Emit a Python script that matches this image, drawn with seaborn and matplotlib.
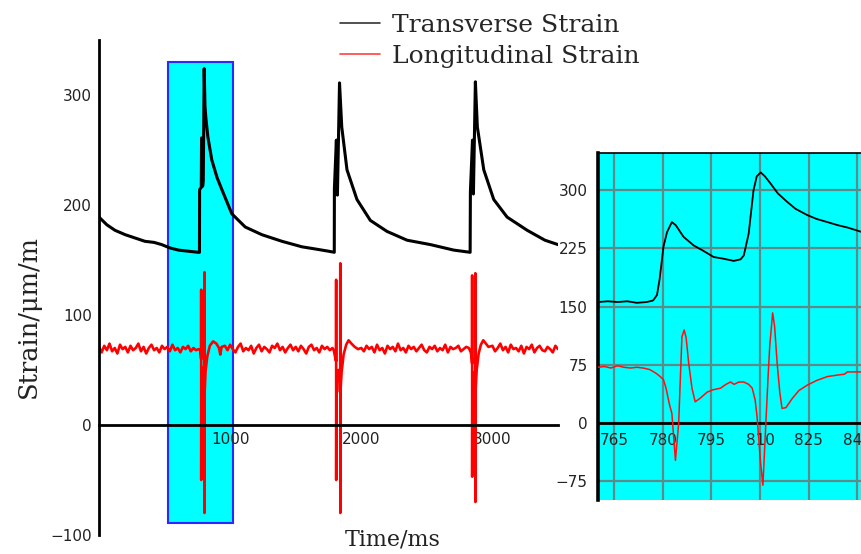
import numpy as np
import pandas as pd
import matplotlib
matplotlib.use("Agg")
import matplotlib.pyplot as plt
from matplotlib.lines import Line2D
from matplotlib.patches import Rectangle
from matplotlib.ticker import MultipleLocator, FixedLocator
import seaborn as sns

# ---------------- data ----------------
# Main chart: transverse strain (black)
trans_t = [0, 60, 122, 200, 275, 350, 420, 478, 540, 606, 680, 758, 766,
           767, 780, 782, 790, 795, 802, 808, 815, 830, 860, 900, 937, 1013,
           1115, 1242, 1395, 1547, 1650, 1750, 1794,
           1795, 1810, 1818, 1834, 1851, 1891, 1967, 2069, 2196, 2349, 2527,
           2705, 2830,
           2832, 2848, 2855, 2870, 2885, 2934, 3010, 3112, 3265, 3400, 3500]
trans_v = [189, 182, 177, 173, 170, 167, 166, 164, 161, 159, 158, 157, 157,
           214, 216, 261, 217, 222, 324, 290, 279, 262, 241, 225, 214, 192,
           180, 173, 167, 162, 160, 158, 157,
           215, 259, 209, 311, 271, 232, 205, 186, 176, 168, 164,
           159, 157,
           212, 259, 210, 312, 271, 232, 205, 189, 177, 168, 164]

# Main chart: longitudinal strain (red) - sampled baseline pieces (20 ms)
sample_ms = 20
long_base_a_start, long_base_a = 0, [71, 66, 72, 68, 74, 67, 70, 65, 73, 69, 71, 66, 72, 68, 70, 74, 67, 71, 65, 70,
                                     73, 68, 70, 66, 72, 69, 71, 67, 73, 68, 70, 66, 71, 69, 72, 67, 70, 68, 69]
long_base_b_start, long_base_b = 960, [72, 68, 73, 69, 66, 71, 74, 67, 70, 68, 72, 65, 70, 73, 67, 71, 69, 66, 72, 70,
                                       74, 68, 71, 66, 70, 73, 68, 71, 67, 72, 69, 65, 71, 73, 68, 70, 66, 72, 69, 71, 68, 70]
long_base_c_start, long_base_c = 2000, [70, 67, 72, 69, 71, 66, 73, 68, 70, 65, 72, 69, 71, 67, 74, 68, 70, 66, 72, 69,
                                        71, 67, 70, 73, 68, 66, 71, 69, 72, 67, 70, 68, 73, 66, 71, 69, 70, 72, 67, 69, 71, 70]
long_base_d_start, long_base_d = 3000, [72, 67, 70, 74, 68, 71, 66, 73, 69, 70, 67, 72, 65, 71, 69, 73, 66, 70, 72, 68,
                                        67, 71, 69, 66, 72, 69]
# impact events
long_ev1_t = [770, 776, 779, 779.3, 779.6, 780.5, 785, 792, 798, 803.6, 803.9, 804.2, 806, 812, 825, 845, 870, 895, 915, 925, 935]
long_ev1_v = [68, 64, 60, 123, -50, 45, 30, 52, 40, 56, 139, -80, 30, 48, 62, 72, 76, 74, 70, 64, 71]
long_ev2_t = [1790, 1800, 1808, 1808.3, 1808.6, 1810, 1815, 1825, 1835, 1839.6, 1839.9, 1840.2, 1842, 1850, 1865, 1885, 1903, 1925, 1950, 1975]
long_ev2_v = [68, 62, 58, 132, -50, 45, 30, 50, 42, 52, 147, -80, 32, 48, 64, 73, 77, 74, 71, 69]
long_ev3_t = [2835, 2843, 2845, 2845.3, 2845.6, 2847, 2852, 2860, 2868, 2869.6, 2869.9, 2870.2, 2872, 2880, 2895, 2912, 2930, 2950, 2970]
long_ev3_v = [66, 60, 56, 136, -47, 42, 30, 48, 40, 50, 138, -70, 32, 50, 65, 73, 77, 74, 71]

# Inset (zoom on first impact)
in_trans_t = [760, 763, 766, 769, 772, 775, 777, 778.2, 779, 780.2, 781.3, 782.8, 784, 786.4, 789.5, 792.5, 795.7,
              798.5, 801.9, 804, 805, 806.5, 808, 809, 810.2, 811.5, 813.2, 815.5, 818.4, 821, 824.6, 827.5,
              830.8, 834, 837, 841.6, 846, 850]
in_trans_v = [156, 157, 156, 157, 155, 156, 158, 165, 185, 227, 246, 259, 255, 240, 229, 222, 214,
              212, 209, 211, 216, 244, 300, 318, 323, 318, 309, 296, 285, 276, 268, 263,
              259, 255, 252, 246, 242, 239]
in_long_t = [760, 762, 764, 766, 768, 770, 772, 774, 776, 778, 779.2, 780.2, 781, 782, 782.8, 783.9, 784.9, 785.9,
             786.6, 787.2, 788, 789, 790, 791.5, 793.7, 795.5, 797.8, 799.5, 800.9, 802, 803.5, 805, 806.5,
             807.6, 808.5, 809.1, 810.2, 810.9, 811.7, 812.5, 813, 813.9, 814.5, 815.3, 816.1, 816.8, 818,
             820, 822, 824.6, 827.5, 830.8, 834, 836, 837, 838.5, 841, 845, 850]
in_long_v = [72, 73, 71, 74, 72, 71, 72, 71, 69, 64, 60, 56, 45, 25, 12.5, -48, 0, 111,
             120, 110, 77, 45, 27.5, 32, 40, 43, 45, 50, 53, 50, 53, 53, 50,
             45, 30, 8, -52, -80, -9, 60, 99, 142, 125, 77, 40, 19, 20,
             32, 42, 49, 55, 60, 62, 63, 66, 66, 66, 68, 70]

main_xticks = [1000, 2000, 3000]
main_yticks = [-100, 0, 100, 200, 300]
inset_xticks = [765, 780, 795, 810, 825, 840]
inset_yticks = [-75, 0, 75, 150, 225, 300]
highlight = dict(x0=527, x1=1023, y0=-89, y1=330)
legend_labels = ["Transverse Strain", "Longitudinal Strain"]

# ---------------- assemble red main series ----------------
def base(start, vals):
    return [start + i * sample_ms for i in range(len(vals))], list(vals)

pieces = [base(long_base_a_start, long_base_a), (long_ev1_t, long_ev1_v),
          base(long_base_b_start, long_base_b), (long_ev2_t, long_ev2_v),
          base(long_base_c_start, long_base_c), (long_ev3_t, long_ev3_v),
          base(long_base_d_start, long_base_d)]
long_t, long_v = [], []
for t, v in pieces:
    long_t += list(t)
    long_v += list(v)

df_trans = pd.DataFrame({"t": trans_t, "v": trans_v})
df_long = pd.DataFrame({"t": long_t, "v": long_v})
df_in_trans = pd.DataFrame({"t": in_trans_t, "v": in_trans_v})
df_in_long = pd.DataFrame({"t": in_long_t, "v": in_long_v})

# ---------------- style ----------------
sns.set_theme(style="white")
plt.rcParams["font.family"] = ["Liberation Sans Narrow", "DejaVu Sans"]
serif_font = ["DejaVu Serif"]

fig = plt.figure(figsize=(8.62, 5.54), dpi=100)

# main axes
ax = fig.add_axes([99 / 862, 1 - 535 / 554, (558 - 99) / 862, 495 / 554])
ax.add_patch(Rectangle((highlight["x0"], highlight["y0"]),
                       highlight["x1"] - highlight["x0"], highlight["y1"] - highlight["y0"],
                       facecolor="#00ffff", edgecolor="#2a2aff", lw=1.5, zorder=0))
sns.lineplot(data=df_trans, x="t", y="v", ax=ax, color="black", lw=2.2,
             estimator=None, sort=False, zorder=3)
sns.lineplot(data=df_long, x="t", y="v", ax=ax, color="#ff0000", lw=1.9,
             estimator=None, sort=False, zorder=2)
ax.set_xlim(0, 3500)
ax.set_ylim(-100, 350)
ax.set_xlabel("")
ax.set_ylabel("")
ax.spines["top"].set_visible(False)
ax.spines["right"].set_visible(False)
ax.spines["bottom"].set_position(("data", 0))
ax.spines["left"].set_bounds(-100, 350)
for s in ("left", "bottom"):
    ax.spines[s].set_linewidth(2.0)
    ax.spines[s].set_color("black")
ax.xaxis.set_major_locator(FixedLocator(main_xticks))
ax.xaxis.set_minor_locator(FixedLocator([500, 1500, 2500, 3500]))
ax.yaxis.set_major_locator(FixedLocator(main_yticks))
ax.yaxis.set_minor_locator(MultipleLocator(50))
ax.tick_params(axis="both", which="major", direction="in", length=6, width=1.8,
               labelsize=11, colors="black", labelcolor="#222222")
ax.tick_params(axis="both", which="minor", direction="in", length=3, width=1.5, colors="black")
ax.tick_params(axis="y", pad=5)
ax.tick_params(axis="x", pad=5)
ax.set_facecolor("white")

# inset axes
ax2 = fig.add_axes([598 / 862, 1 - 500 / 554, 291.6 / 862, 347 / 554])
ax2.set_facecolor("#00ffff")
sns.lineplot(data=df_in_trans, x="t", y="v", ax=ax2, color="black", lw=1.3,
             estimator=None, sort=False, zorder=3)
sns.lineplot(data=df_in_long, x="t", y="v", ax=ax2, color="#ff1010", lw=1.1,
             estimator=None, sort=False, zorder=3)
ax2.set_xlim(760, 850)
ax2.set_ylim(-99, 348)
ax2.set_xlabel("")
ax2.set_ylabel("")
ax2.xaxis.set_major_locator(FixedLocator(inset_xticks))
ax2.xaxis.set_minor_locator(MultipleLocator(7.5))
ax2.yaxis.set_major_locator(FixedLocator(inset_yticks))
ax2.yaxis.set_minor_locator(MultipleLocator(37.5))
ax2.grid(True, which="major", color="#5e8a8a", lw=1.6)
ax2.set_axisbelow(True)
ax2.spines["bottom"].set_position(("data", 0))
ax2.spines["bottom"].set_linewidth(2.0)
ax2.spines["bottom"].set_zorder(2.5)
ax2.spines["left"].set_linewidth(2.6)
ax2.spines["top"].set_linewidth(1.2)
ax2.spines["right"].set_visible(False)
for s in ("bottom", "left", "top"):
    ax2.spines[s].set_color("black")
ax2.tick_params(axis="both", which="major", direction="out", length=4, width=1.2,
                labelsize=11, colors="black", labelcolor="#222222")
ax2.tick_params(axis="both", which="minor", direction="out", length=2, width=1.0, colors="black")
ax2.tick_params(axis="x", pad=3)

# labels
fig.text(28 / 862, 1 - 316 / 554, "Strain/μm/m", rotation=90, ha="center", va="center",
         fontsize=18.5, family=serif_font, color="#222222")
fig.text(393 / 862, 1 - 540 / 554, "Time/ms", ha="center", va="center",
         fontsize=16, family=serif_font, color="#222222")

# legend
handles = [Line2D([], [], color="#333333", lw=1.2), Line2D([], [], color="#ff4040", lw=1.2)]
fig.legend(handles, legend_labels, loc="upper left", bbox_to_anchor=(340 / 862, 1 - 14 / 554),
           frameon=False, handlelength=1.6, handletextpad=0.48, labelspacing=0.32,
           borderpad=0.0, borderaxespad=0.0,
           prop={"family": serif_font, "size": 18})

fig.savefig("out.png", dpi=100)
